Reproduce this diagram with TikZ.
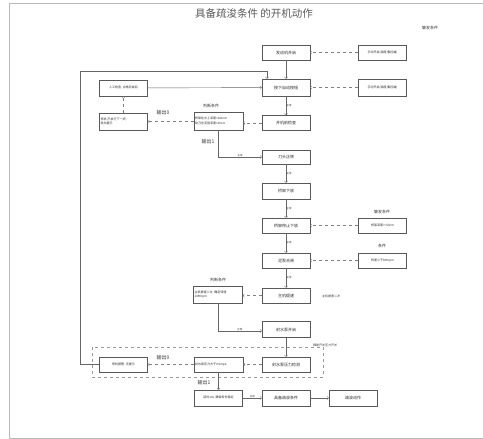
\documentclass[tikz,border=0pt]{standalone}
\usepackage{fontspec}
\setmainfont{Noto Sans CJK SC}
\usepackage{xcolor}

\begin{document}
\begin{tikzpicture}[x=1pt,y=-1pt,
    stepbox/.style={draw=black!65, line width=0.5pt, minimum width=48pt, minimum height=15pt, inner sep=1pt, font=\fontsize{4}{5}\selectfont, align=center, text=black!85},
    sidebox/.style={stepbox, font=\fontsize{3}{4}\selectfont},
    judgebox/.style={draw=black!65, line width=0.5pt, text width=47pt, minimum height=17pt, inner sep=1pt, font=\fontsize{3}{4.5}\selectfont, align=left, text=black!85},
    tag/.style={font=\fontsize{5}{6}\selectfont, inner sep=0.5pt, text=black!80},
    mini/.style={font=\fontsize{2.5}{3}\selectfont, inner sep=0.4pt, text=black!80},
    flow/.style={->, draw=black!60, line width=0.4pt},
    cond/.style={->, draw=black!50, line width=0.4pt, dashed}]
    \useasboundingbox (0,0) rectangle (483,439);
    % outer frame
    \draw[gray!55, line width=0.8pt] (9,3) rectangle (483,438);

    % title
    \node[font=\fontsize{10.5}{12}\selectfont, text=black!65] (title) at (254,14) {具备疏浚条件\ 的开机动作};
    \node[tag, font=\fontsize{4}{5}\selectfont] (trig1) at (430,28) {触发条件};

    % main steps
    \node[stepbox] (engine) at (286,52.5) {发动机开启};
    \node[stepbox, minimum height=17pt] (button) at (286,87.5) {按下自动按钮};
    \node[stepbox] (check) at (286,123) {开机前检查};
    \node[stepbox, minimum height=14pt] (cutter) at (286,157) {刀头正转};
    \node[stepbox, minimum height=16pt] (lower) at (286,191) {桥架下放};
    \node[stepbox] (stop) at (286,225.5) {桥架停止下放};
    \node[stepbox] (pump) at (286,260.5) {泥泵合闸};
    \node[stepbox] (speed) at (286,295.5) {主机提速};
    \node[stepbox, minimum height=16pt] (seal) at (286,329.5) {封水泵开启};
    \node[stepbox] (press) at (286,364.5) {封水泵压力检测};
    \node[stepbox, minimum height=16pt] (ready) at (286,398) {具备疏浚条件};
    \node[stepbox, minimum height=16pt] (dredge) at (353,398) {疏浚动作};

    % trigger conditions on the right
    \node[sidebox] (manual1) at (382.5,52.5) {手动开启(调度,集控端)};
    \node[sidebox, minimum height=17pt] (manual2) at (382.5,87.5) {手动开启(调度,集控端)};
    \node[tag, font=\fontsize{4}{5}\selectfont] (trig2) at (382,212) {触发条件};
    \node[sidebox] (depth) at (382.5,225.5) {桥架深度>=50cm};
    \node[tag, font=\fontsize{4}{5}\selectfont] (cond1) at (382,246) {条件};
    \node[sidebox] (rpm) at (382.5,260.5) {转速小于800rpm};
    \node[mini, font=\fontsize{3}{4}\selectfont] (twice) at (331,296) {主机提速二次};

    % judgement boxes
    \node[tag, font=\fontsize{4}{5}\selectfont] (judge1lbl) at (211,106) {判断条件};
    \node[judgebox, minimum height=18pt] (judge1) at (218.5,121) {桥架在水上深度<160cm\\绞刀在泥层深度<20cm};
    \node[tag, font=\fontsize{4}{5}\selectfont] (judge2lbl) at (218,280) {判断条件};
    \node[judgebox] (judge2) at (218,294.5) {主机提速二次, 确定转速\\1490rpm};
    \node[sidebox, text width=47pt, align=left] (presschk) at (218.5,364.5) {封水泵压力大于0.5mpa};
    \node[sidebox, minimum height=16pt] (delay) at (218.5,398) {延时10s, 确保条件稳定};

    % left side
    \node[sidebox, minimum height=16pt] (manual) at (123.5,88) {人工检查, 合格完成后};
    \node[sidebox, minimum height=17pt, text width=46pt, align=left] (halt) at (123.5,121.5) {停机(不执行下一步)\\发出提示};
    \node[sidebox] (alarm) at (123.5,364.5) {停机报警, 无提示};

    % output labels
    \node[tag] (out0a) at (163,113) {输出0};
    \node[tag] (out1a) at (208,142) {输出1};
    \node[tag] (out0b) at (163,358) {输出0};
    \node[tag] (out1b) at (204,383) {输出1};

    % dashed pressure region
    \draw[dashed, black!40, line width=0.5pt] (92,347) rectangle (323,377);
    \node[mini, font=\fontsize{3}{4}\selectfont] (switch) at (325,345) {辅助开关压力开关};

    % main flow
    \draw[flow] (engine) -- (button);
    \draw[flow] (button) -- (check) node[mini, midway, right] {正常};
    \draw[flow] (cutter) -- (lower) node[mini, midway, right] {正常};
    \draw[flow] (lower) -- (stop) node[mini, midway, right] {正常};
    \draw[flow] (stop) -- (pump) node[mini, midway, right] {正常};
    \draw[flow] (pump) -- (speed) node[mini, midway, right] {正常};
    \draw[flow] (seal) -- (press);
    \draw[flow] (ready) -- (dredge);

    % conditions into the steps
    \draw[cond] (manual1) -- (engine);
    \draw[cond] (manual2) -- (button);
    \draw[cond] (depth) -- (stop);
    \draw[cond] (rpm) -- (pump);

    % judgements
    \draw[cond] (check) -- (judge1.east |- check);
    \draw[cond] (judge1.west |- halt) -- (halt);
    \draw[cond] (halt) -- (manual);
    \draw[flow] (manual) -- (button);
    \draw[flow] (judge1.south) |- (cutter.west) node[mini, pos=0.75, above] {正常};
    \draw[cond] (speed) -- (judge2.east |- speed);
    \draw[flow] (judge2.south) |- ([yshift=-1.5pt]seal.west) node[mini, pos=0.75, above] {正常};
    \draw[cond] (press) -- (presschk);
    \draw[cond] (presschk) -- (alarm);
    \draw[flow] (presschk) -- (delay);
    \draw[flow] (delay) -- (ready) node[mini, midway, above] {正常};

    % loop back to the auto button
    \coordinate (loopB) at (80,364.5);
    \coordinate (loopT) at (80,71);
    \draw[flow] (alarm.west) -- (loopB) -- (loopT) -| ([xshift=-19pt]button.north);
\end{tikzpicture}
\end{document}
